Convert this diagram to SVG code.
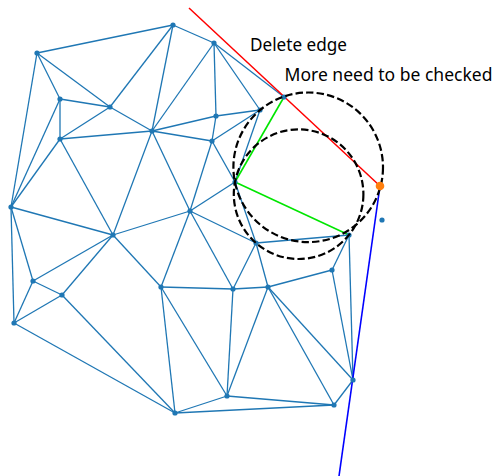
<svg xmlns="http://www.w3.org/2000/svg" width="495" height="476" viewBox="0 0 495 476">
<style>
.e{stroke:#1f77b4;stroke-width:1.3;fill:none}
.n circle{fill:#1f77b4}
.lbl{font-family:"Noto Sans","Open Sans","DejaVu Sans",sans-serif;font-size:17.3px;fill:#000}
.circ{fill:none;stroke:#000;stroke-width:2.2;stroke-dasharray:7.4 3.2}
</style>
<rect width="495" height="476" fill="#fff"/>
<g id="connectors">
<g class="e">
<line x1="37" y1="53" x2="173" y2="25"/>
<line x1="37" y1="53" x2="60" y2="99"/>
<line x1="37" y1="53" x2="110" y2="107"/>
<line x1="37" y1="53" x2="11" y2="207"/>
<line x1="173" y1="25" x2="214" y2="43"/>
<line x1="173" y1="25" x2="110" y2="107"/>
<line x1="173" y1="25" x2="152" y2="131"/>
<line x1="214" y1="43" x2="152" y2="131"/>
<line x1="214" y1="43" x2="216" y2="116"/>
<line x1="214" y1="43" x2="260" y2="110"/>
<line x1="214" y1="43" x2="284" y2="97"/>
<line x1="60" y1="99" x2="110" y2="107"/>
<line x1="60" y1="99" x2="60" y2="139"/>
<line x1="60" y1="99" x2="11" y2="207"/>
<line x1="110" y1="107" x2="60" y2="139"/>
<line x1="110" y1="107" x2="152" y2="131"/>
<line x1="60" y1="139" x2="152" y2="131"/>
<line x1="60" y1="139" x2="11" y2="207"/>
<line x1="60" y1="139" x2="113" y2="235"/>
<line x1="152" y1="131" x2="216" y2="116"/>
<line x1="152" y1="131" x2="212" y2="141"/>
<line x1="152" y1="131" x2="190" y2="211"/>
<line x1="152" y1="131" x2="113" y2="235"/>
<line x1="216" y1="116" x2="212" y2="141"/>
<line x1="216" y1="116" x2="260" y2="110"/>
<line x1="212" y1="141" x2="260" y2="110"/>
<line x1="212" y1="141" x2="235" y2="182"/>
<line x1="212" y1="141" x2="190" y2="211"/>
<line x1="260" y1="110" x2="235" y2="182"/>
<line x1="11" y1="207" x2="113" y2="235"/>
<line x1="11" y1="207" x2="33" y2="281"/>
<line x1="11" y1="207" x2="14" y2="323"/>
<line x1="190" y1="211" x2="113" y2="235"/>
<line x1="190" y1="211" x2="235" y2="182"/>
<line x1="190" y1="211" x2="256" y2="243"/>
<line x1="190" y1="211" x2="161" y2="287"/>
<line x1="190" y1="211" x2="233" y2="289"/>
<line x1="113" y1="235" x2="33" y2="281"/>
<line x1="113" y1="235" x2="62" y2="295"/>
<line x1="113" y1="235" x2="161" y2="287"/>
<line x1="33" y1="281" x2="62" y2="295"/>
<line x1="33" y1="281" x2="14" y2="323"/>
<line x1="62" y1="295" x2="14" y2="323"/>
<line x1="62" y1="295" x2="175" y2="413"/>
<line x1="14" y1="323" x2="175" y2="413"/>
<line x1="161" y1="287" x2="233" y2="289"/>
<line x1="161" y1="287" x2="227" y2="396"/>
<line x1="161" y1="287" x2="175" y2="413"/>
<line x1="233" y1="289" x2="256" y2="243"/>
<line x1="233" y1="289" x2="268" y2="287"/>
<line x1="233" y1="289" x2="227" y2="396"/>
<line x1="256" y1="243" x2="268" y2="287"/>
<line x1="256" y1="243" x2="349" y2="235"/>
<line x1="235" y1="182" x2="256" y2="243"/>
<line x1="268" y1="287" x2="332" y2="270"/>
<line x1="268" y1="287" x2="227" y2="396"/>
<line x1="268" y1="287" x2="334" y2="405"/>
<line x1="268" y1="287" x2="353" y2="380"/>
<line x1="332" y1="270" x2="349" y2="235"/>
<line x1="332" y1="270" x2="353" y2="380"/>
<line x1="349" y1="235" x2="353" y2="380"/>
<line x1="227" y1="396" x2="175" y2="413"/>
<line x1="175" y1="413" x2="334" y2="405"/>
<line x1="227" y1="396" x2="334" y2="405"/>
<line x1="334" y1="405" x2="353" y2="380"/>
</g>
<g stroke="#00e600" stroke-width="1.6">
<line x1="284" y1="97" x2="235" y2="182"/>
<line x1="235" y1="182" x2="349" y2="235"/>
</g>
<line x1="189" y1="8" x2="380" y2="186" stroke="#ff0000" stroke-width="1.5"/>
<line x1="380" y1="186" x2="339" y2="476" stroke="#0000ff" stroke-width="1.6"/>
</g>
<g id="nodes" class="n">
<g id="nA"><circle cx="37" cy="53" r="2.6"/></g>
<g id="nB"><circle cx="173" cy="25" r="2.6"/></g>
<g id="nC"><circle cx="214" cy="43" r="2.6"/></g>
<g id="nD"><circle cx="60" cy="99" r="2.6"/></g>
<g id="nE"><circle cx="110" cy="107" r="2.6"/></g>
<g id="nF"><circle cx="60" cy="139" r="2.6"/></g>
<g id="nG"><circle cx="152" cy="131" r="2.6"/></g>
<g id="nH"><circle cx="216" cy="116" r="2.6"/></g>
<g id="nI"><circle cx="212" cy="141" r="2.6"/></g>
<g id="nJ"><circle cx="11" cy="207" r="2.6"/></g>
<g id="nK"><circle cx="190" cy="211" r="2.6"/></g>
<g id="nL"><circle cx="113" cy="235" r="2.6"/></g>
<g id="nM"><circle cx="33" cy="281" r="2.6"/></g>
<g id="nN"><circle cx="62" cy="295" r="2.6"/></g>
<g id="nO"><circle cx="14" cy="323" r="2.6"/></g>
<g id="nP"><circle cx="284" cy="97" r="2.6"/></g>
<g id="nQ"><circle cx="260" cy="110" r="2.6"/></g>
<g id="nR"><circle cx="235" cy="182" r="2.6"/></g>
<g id="nS"><circle cx="349" cy="235" r="2.6"/></g>
<g id="nT"><circle cx="256" cy="243" r="2.6"/></g>
<g id="nU"><circle cx="161" cy="287" r="2.6"/></g>
<g id="nV"><circle cx="233" cy="289" r="2.6"/></g>
<g id="nW"><circle cx="227" cy="396" r="2.6"/></g>
<g id="nX"><circle cx="175" cy="413" r="2.6"/></g>
<g id="nY"><circle cx="332" cy="270" r="2.6"/></g>
<g id="nZ"><circle cx="268" cy="287" r="2.6"/></g>
<g id="nAA"><circle cx="353" cy="380" r="2.6"/></g>
<g id="nAB"><circle cx="334" cy="405" r="2.6"/></g>
<g id="nLone"><circle cx="382" cy="220" r="2.6"/></g>
</g>
<g id="circles">
<circle class="circ" cx="308.2" cy="167.3" r="74.8"/>
<circle class="circ" cx="298.6" cy="194.2" r="64.8"/>
</g>
<g id="nNew"><circle cx="380" cy="186" r="4.3" fill="#ff7f0e"/></g>
<g id="labels">
<text class="lbl" x="250" y="51" textLength="97" lengthAdjust="spacingAndGlyphs">Delete edge</text>
<text class="lbl" x="284.5" y="81" textLength="208" lengthAdjust="spacingAndGlyphs">More need to be checked</text>
</g>
</svg>
